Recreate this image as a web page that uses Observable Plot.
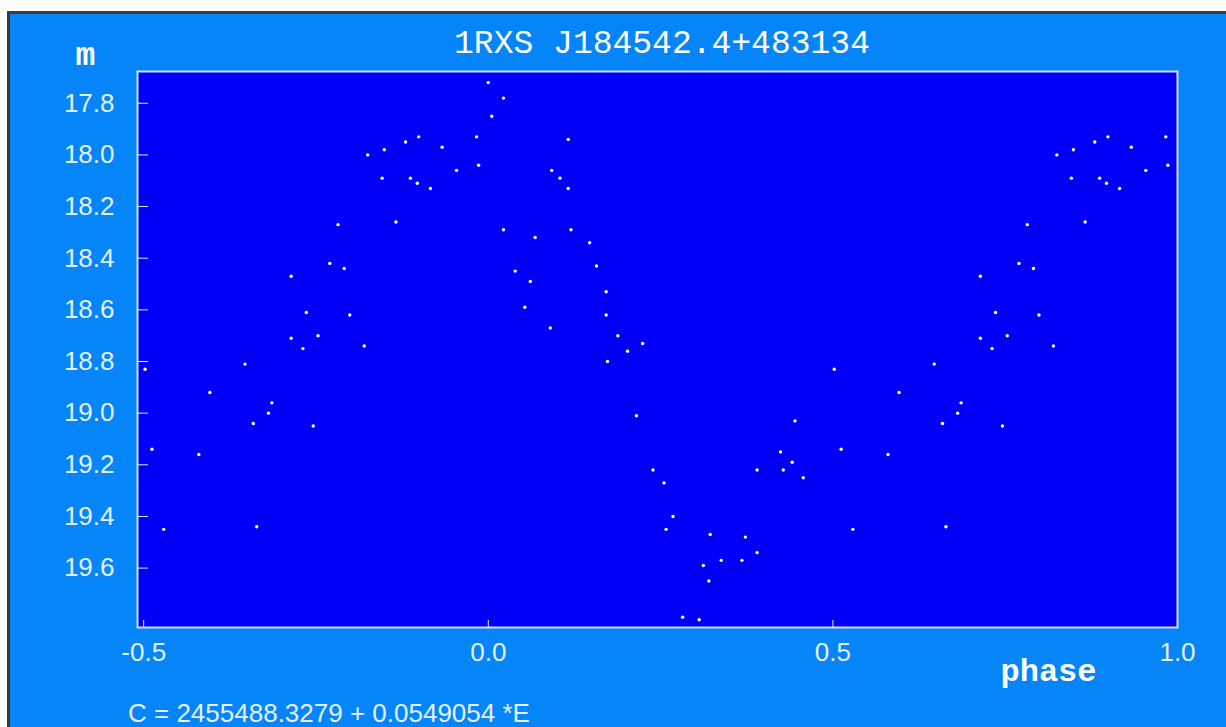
<!DOCTYPE html>
<html>
<head>
<meta charset="utf-8">
<script src="https://cdn.jsdelivr.net/npm/d3@7"></script>
<script src="https://cdn.jsdelivr.net/npm/@observablehq/plot@0.6"></script>
<style>
  html, body { margin: 0; padding: 0; background: #fff; }
  #page { position: relative; width: 1226px; height: 727px; overflow: hidden; background: #fff; }
  #panel { position: absolute; left: 7px; top: 11px; right: 0; bottom: 0; background: #0585f8;
           border-top: 3px solid #3a3a3a; border-left: 3px solid #3a3a3a; }
  #title { position: absolute; left: 142px; width: 1040px; top: 28px; text-align: center;
           font-family: "Courier New", "Liberation Mono", monospace; font-size: 33px; line-height: 33px;
           color: #fff; white-space: pre; }
  #chart { position: absolute; left: 0; top: 0; }
  #caption { position: absolute; left: 128px; top: 702px; font-family: "Liberation Sans", Arial, sans-serif;
             font-size: 26px; line-height: 22px; color: #e6f0ff; white-space: pre; }
</style>
</head>
<body>
<div id="page">
  <div id="panel"></div>
  <div id="chart"></div>
  <div id="title"></div>
  <div id="caption"></div>
</div>
<script>
// Object name and ephemeris
const titleText = "1RXS J184542.4+483134";
const captionText = "C = 2455488.3279 + 0.0549054 *E";

// Folded light curve: phase in [0, 1) and magnitude
const phase = [
  0.000, 0.022, 0.005, 0.116, 0.092, 0.104, 0.116, 0.120, 0.022, 0.068,
  0.147, 0.157, 0.039, 0.061, 0.171, 0.053, 0.171, 0.090, 0.188, 0.224,
  0.202, 0.173, 0.215, 0.239, 0.255, 0.268, 0.258, 0.322, 0.312, 0.320,
  0.282, 0.306, 0.445, 0.424, 0.441, 0.390, 0.428, 0.457, 0.373, 0.390,
  0.338, 0.368,
  0.502, 0.647, 0.596, 0.686, 0.681, 0.659, 0.512, 0.580, 0.529, 0.664,
  0.746, 0.983, 0.899, 0.880, 0.933, 0.849, 0.825, 0.986, 0.954, 0.887,
  0.846, 0.897, 0.916, 0.866, 0.782, 0.770, 0.791, 0.714, 0.736, 0.799,
  0.753, 0.714, 0.731, 0.820
];
const magnitude = [
  17.72, 17.78, 17.85, 17.94, 18.06, 18.09, 18.13, 18.29, 18.29, 18.32,
  18.34, 18.43, 18.45, 18.49, 18.53, 18.59, 18.62, 18.67, 18.70, 18.73,
  18.76, 18.80, 19.01, 19.22, 19.27, 19.40, 19.45, 19.47, 19.59, 19.65,
  19.79, 19.80, 19.03, 19.15, 19.19, 19.22, 19.22, 19.25, 19.48, 19.54,
  19.57, 19.57,
  18.83, 18.81, 18.92, 18.96, 19.00, 19.04, 19.14, 19.16, 19.45, 19.44,
  19.05, 17.93, 17.93, 17.95, 17.97, 17.98, 18.00, 18.04, 18.06, 18.09,
  18.09, 18.11, 18.13, 18.26, 18.27, 18.42, 18.44, 18.47, 18.61, 18.62,
  18.70, 18.71, 18.75, 18.74
];

// Axis ticks
const xTicks = [-0.5, 0.0, 0.5, 1.0];
const yTicks = [17.8, 18.0, 18.2, 18.4, 18.6, 18.8, 19.0, 19.2, 19.4, 19.6];

// Phases from 0.5 on are repeated one cycle earlier, so the plot runs from -0.5 to 1.0
const points = [];
phase.forEach((p, i) => {
  points.push({phase: p, m: magnitude[i]});
  if (p >= 0.5) points.push({phase: p - 1, m: magnitude[i]});
});

const ink = "#e6f0ff";
const labelFont = "'Courier New', 'Liberation Mono', monospace";
const fmt = d => d.toFixed(1);

const chart = Plot.plot({
  width: 1226,
  height: 727,
  marginLeft: 137,
  marginRight: 49,
  marginTop: 71,
  marginBottom: 100,
  style: "background: transparent; color: #e6f0ff; font-family: 'Liberation Sans', Arial, sans-serif; font-size: 26px; overflow: visible;",
  x: {domain: [-0.509, 1.0]},
  y: {domain: [17.677, 19.83], reverse: true},
  marks: [
    Plot.frame({fill: "#0000f6"}),
    Plot.dot(points, {x: "phase", y: "m", r: 1.7, fill: "white", stroke: null}),
    Plot.frame({stroke: "#d4dcff", strokeWidth: 2}),
    Plot.axisY(yTicks, {tickSize: -11, tickPadding: 34, tickFormat: fmt, stroke: ink, fill: ink, label: null}),
    Plot.axisX(xTicks, {tickSize: -7, tickPadding: 22, tickFormat: fmt, stroke: ink, fill: ink, label: null}),
    Plot.text(["m"], {frameAnchor: "top-left", text: d => d, textAnchor: "start", lineAnchor: "bottom",
      dx: -62, dy: -7, fontFamily: labelFont, fontSize: 33, fontWeight: "bold", fill: "white"}),
    Plot.text(["phase"], {frameAnchor: "bottom-right", text: d => d, textAnchor: "end", lineAnchor: "bottom",
      dx: -81, dy: 53, fontFamily: labelFont, fontSize: 32, fontWeight: "bold", fill: "white"})
  ]
});

document.getElementById("chart").appendChild(chart);
document.getElementById("title").textContent = titleText;
document.getElementById("caption").textContent = captionText;
</script>
</body>
</html>
